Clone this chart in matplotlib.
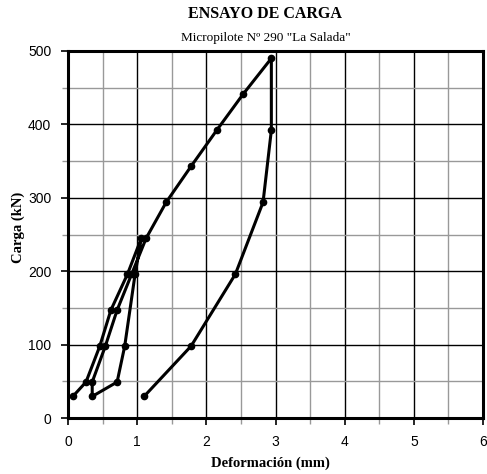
import matplotlib
matplotlib.use("Agg")
import matplotlib.pyplot as plt
from matplotlib.ticker import MultipleLocator

# Ensayo de carga - micropilote 290
deformacion = [0.07, 0.26, 0.46, 0.62, 0.86, 1.06,
               0.97, 0.82, 0.71, 0.35,
               0.35, 0.54, 0.71, 0.92, 1.13, 1.42, 1.78, 2.15, 2.53, 2.94,
               2.94, 2.82, 2.42, 1.78, 1.10]
carga = [29.4, 49, 98, 147, 196, 245,
         196, 98, 49, 29.4,
         49, 98, 147, 196, 245, 294, 343, 392, 441, 490,
         392, 294, 196, 98, 29.4]

fig = plt.figure(figsize=(4.87, 4.74), dpi=100)
ax = fig.add_axes([68 / 487, 1 - 418 / 474, 415 / 487, 367 / 474])

ax.plot(deformacion, carga, color="black", linewidth=2.2, marker="o",
        markersize=4.5, zorder=3)

ax.set_xlim(0, 6)
ax.set_ylim(0, 500)
ax.xaxis.set_major_locator(MultipleLocator(1))
ax.xaxis.set_minor_locator(MultipleLocator(0.5))
ax.yaxis.set_major_locator(MultipleLocator(100))
ax.yaxis.set_minor_locator(MultipleLocator(50))

ax.grid(which="major", color="black", linewidth=1.0)
ax.grid(which="minor", color="#999999", linewidth=1.0)
ax.set_axisbelow(True)

for s in ax.spines.values():
    s.set_linewidth(2.2)

ax.tick_params(which="major", direction="out", length=5, width=1.2,
               labelsize=10, pad=7)
ax.tick_params(which="minor", direction="out", length=4, width=1.0,
               color="#999999")
for lab in ax.get_xticklabels() + ax.get_yticklabels():
    lab.set_family("Liberation Sans")

ax.set_xlabel("Deformación (mm)", family="Liberation Serif", fontweight="bold",
              fontsize=10.5)
ax.set_ylabel("Carga (kN)", family="Liberation Serif", fontweight="bold",
              fontsize=10.5)
ax.xaxis.set_label_coords(0.489, -0.123)
ax.yaxis.set_label_coords(-0.12, 0.52)
ax.xaxis.label.set_va("center")
ax.yaxis.label.set_va("center")

fig.text(265 / 487, 1 - 14 / 474, "ENSAYO DE CARGA", family="Liberation Serif",
         fontweight="bold", fontsize=11.5, ha="center", va="center")
fig.text(266 / 487, 1 - 38 / 474, 'Micropilote Nº 290 "La Salada"',
         family="Liberation Serif", fontsize=9.5, ha="center", va="center")

fig.savefig("out.png", dpi=100)
